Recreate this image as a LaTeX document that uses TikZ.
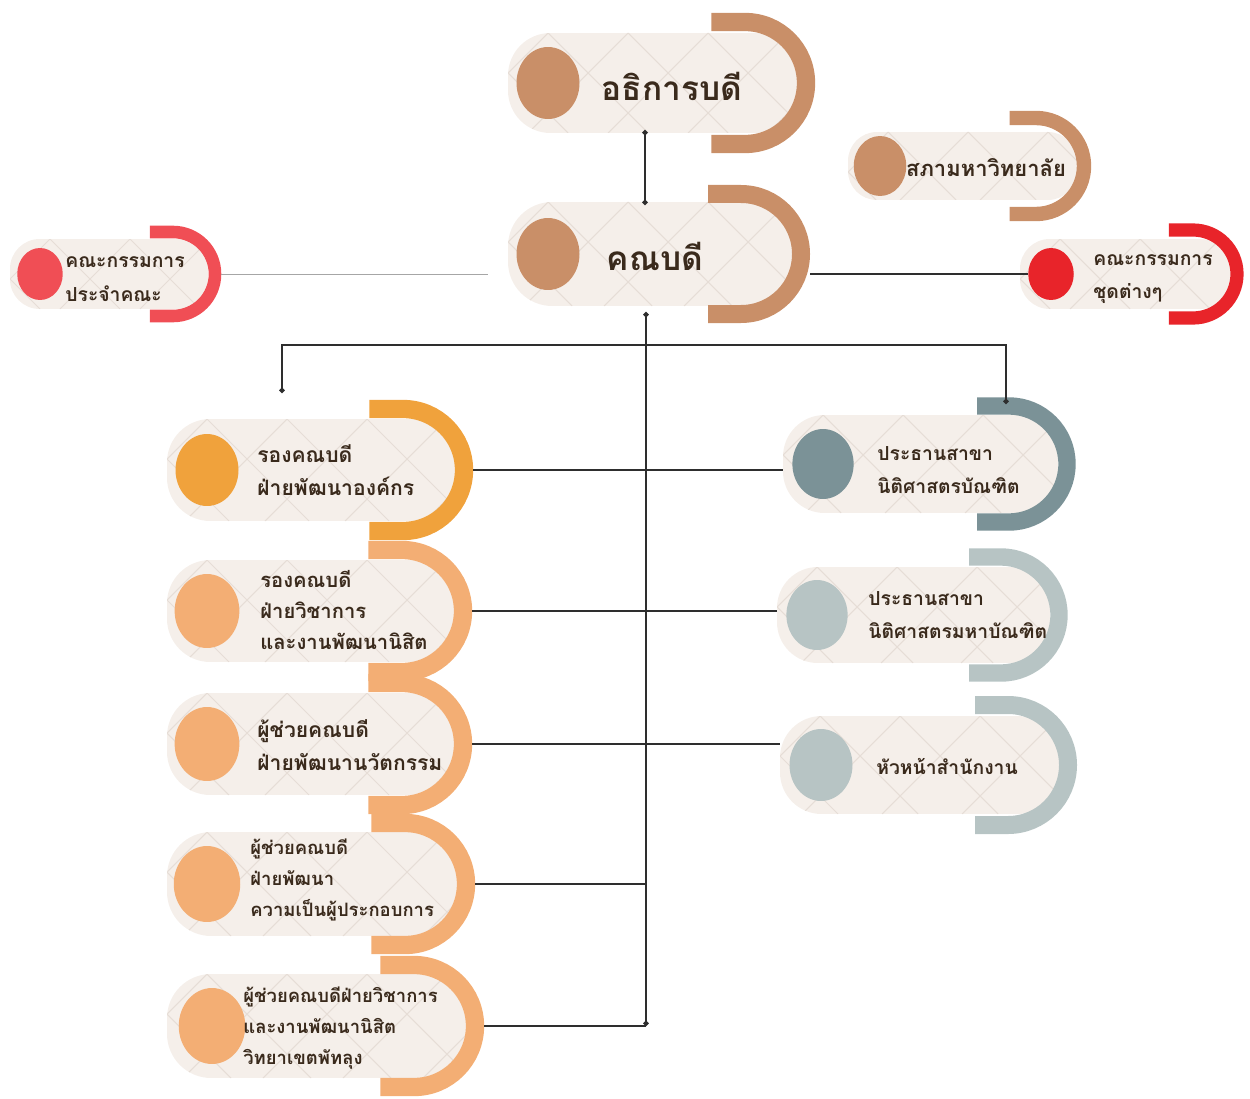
\documentclass[tikz,border=0pt]{standalone}
\usepackage{fontspec}
\newfontfamily\thaifont[Script=Thai]{Loma}
\usetikzlibrary{shapes.geometric}
\usetikzlibrary{arrows.meta}
\usepackage{xcolor}
\definecolor{brownc}{HTML}{C98F68}
\definecolor{coralc}{HTML}{F04E55}
\definecolor{redc}{HTML}{E8242A}
\definecolor{orangec}{HTML}{F0A23C}
\definecolor{peachc}{HTML}{F3AE74}
\definecolor{slatec}{HTML}{7B9297}
\definecolor{mistc}{HTML}{B7C4C4}
\definecolor{pillc}{HTML}{F5EFEA}
\definecolor{latc}{HTML}{E6DDD6}
\definecolor{inkc}{HTML}{3A2A1C}
\definecolor{wirec}{HTML}{2E2E2E}

\tikzset{
  lattice/.style={draw=latc, line width=0.6pt},
  knob/.style={ellipse, inner sep=0pt, draw=none},
  wire/.style={draw=wirec, line width=0.8pt},
  lbl/.style={font=\thaifont\bfseries\fontsize{12}{19}\selectfont, text=inkc, align=left, inner sep=0pt},
  lblsmall/.style={lbl, font=\thaifont\bfseries\fontsize{11}{19}\selectfont},
  lbltight/.style={lbl, font=\thaifont\bfseries\fontsize{10.5}{17.5}\selectfont},
  lblbig/.style={lbl, font=\thaifont\bfseries\fontsize{19}{24}\selectfont}
}

% name, pill left, mid y, half height, ring centre x, ring radius, knob x, knob radius, colour
\newcommand{\orgpill}[9]{%
  \begin{scope}
    \clip[rounded corners={#4*0.017cm}] (#2,{#3-#4}) rectangle ({#5+0.85*#6},{#3+#4});
    \fill[pillc] (#2,{#3-#4}) rectangle ({#5+0.85*#6},{#3+#4});
    \foreach \k in {-3,...,6}{
      \draw[lattice] ({#2+40+80*\k},{#3-#4}) -- ++({2*#4},{2*#4});
      \draw[lattice] ({#2+40+80*\k},{#3-#4}) -- ++({-2*#4},{2*#4});
    }
  \end{scope}
  \draw[draw=#9, line width={0.3*#6*0.02cm}] ({#5-0.55*#6},{#3-#6}) -- (#5,{#3-#6})
    arc[start angle=90, end angle=-90, radius={#6*0.02cm}] -- ({#5-0.55*#6},{#3+#6});
  \node[knob, fill=#9, minimum width={#8*0.035cm}, minimum height={#8*0.04cm}] (#1-dot) at (#7,#3) {};
  \coordinate (#1-w) at (#2,#3);
  \coordinate (#1-e) at ({#5+1.15*#6},#3);
}

\begin{document}
\begin{tikzpicture}[x=0.02cm, y=-0.02cm]
  \useasboundingbox (0,0) rectangle (1250,1098);

  % top of the chart
  \orgpill{rector}{508}{83}{50}{745}{61}{548}{36}{brownc}
  \orgpill{dean}{508}{254}{52}{741}{60}{548}{36}{brownc}
  \orgpill{council}{848}{166}{34}{1036}{48}{880}{30}{brownc}
  \orgpill{board}{1020}{274}{35}{1193}{44}{1051}{26}{redc}
  \orgpill{fb}{10}{274}{35}{173}{42}{40}{26}{coralc}

  % left column
  \orgpill{vd1}{167}{470}{51}{403}{61}{207}{36}{orangec}
  \orgpill{vd2}{167}{611}{51}{402}{61}{207}{37}{peachc}
  \orgpill{ad1}{167}{744}{51}{402}{61}{207}{37}{peachc}
  \orgpill{ad2}{167}{884}{52}{405}{61}{207}{38}{peachc}
  \orgpill{ad3}{167}{1026}{52}{414}{61}{212}{38}{peachc}

  % right column
  \orgpill{ch1}{783}{464}{49}{1009}{58}{823}{35}{slatec}
  \orgpill{ch2}{777}{615}{48}{1001}{58}{817}{35}{mistc}
  \orgpill{office}{780}{765}{49}{1008}{60}{821}{36}{mistc}

  % texts
  \node[lblbig] (rector-t) at (672,86) {อธิการบดี};
  \node[lblbig] (dean-t) at (655,256) {คณบดี};
  \node[lbl, font=\thaifont\bfseries\fontsize{12.5}{18}\selectfont] (council-t) at (986,168) {สภามหาวิทยาลัย};
  \node[lblsmall, anchor=west] (board-t) at (1093,279) {คณะกรรมการ\\ชุดต่างๆ};
  \node[lblsmall, anchor=west] (fb-t) at (65,279) {คณะกรรมการ\\ประจำคณะ};
  \node[lbl, anchor=west] (vd1-t) at (257,470) {รองคณบดี\\ฝ่ายพัฒนาองค์กร};
  \node[lbltight, font=\thaifont\bfseries\fontsize{11.5}{17.5}\selectfont, anchor=west] (vd2-t) at (260,610) {รองคณบดี\\ฝ่ายวิชาการ\\และงานพัฒนานิสิต};
  \node[lbl, anchor=west] (ad1-t) at (257,745) {ผู้ช่วยคณบดี\\ฝ่ายพัฒนานวัตกรรม};
  \node[lbltight, anchor=west] (ad2-t) at (250,880) {ผู้ช่วยคณบดี\\ฝ่ายพัฒนา\\ความเป็นผู้ประกอบการ};
  \node[lbltight, anchor=west] (ad3-t) at (243,1028) {ผู้ช่วยคณบดีฝ่ายวิชาการ\\และงานพัฒนานิสิต\\วิทยาเขตพัทลุง};
  \node[lblsmall, anchor=west] (ch1-t) at (877,470) {ประธานสาขา\\นิติศาสตรบัณฑิต};
  \node[lblsmall, anchor=west] (ch2-t) at (868,615) {ประธานสาขา\\นิติศาสตรมหาบัณฑิต};
  \node[lblsmall] (office-t) at (947,766) {หัวหน้าสำนักงาน};

  % junctions
  \coordinate (rector-s) at (645,130);
  \coordinate (dean-n) at (645,205);
  \coordinate (dean-s) at (646,312);
  \coordinate (dean-gap) at (488,274);
  \coordinate (split) at (646,345);
  \coordinate (drop-l) at (282,393);
  \coordinate (drop-r) at (1006,404);
  \coordinate (trunk-end) at (646,1026);

  % connectors
  \draw[wire, {Circle[length=3pt]}-{Circle[length=3pt]}] (rector-s) -- (dean-n);
  \draw[wire, {Circle[length=3pt]}-{Circle[length=3pt]}] (dean-s) -- (trunk-end);
  \draw[wire, {Circle[length=3pt]}-{Circle[length=3pt]}] (drop-l) |- (split) -| (drop-r);
  \draw[wire, draw=gray!70, line width=0.5pt] (fb-e) -- (dean-gap);
  \draw[wire] (dean-e |- board-dot) -- (board-dot.west);
  \draw[wire] (vd1-e) -- (vd1-e -| ch1-w);
  \draw[wire] (vd2-e) -- (vd2-e -| ch2-w);
  \draw[wire] (ad1-e) -- (ad1-e -| office-w);
  \draw[wire] (ad2-e) -- (ad2-e -| trunk-end);
  \draw[wire] (ad3-e) -- (trunk-end);
\end{tikzpicture}
\end{document}
